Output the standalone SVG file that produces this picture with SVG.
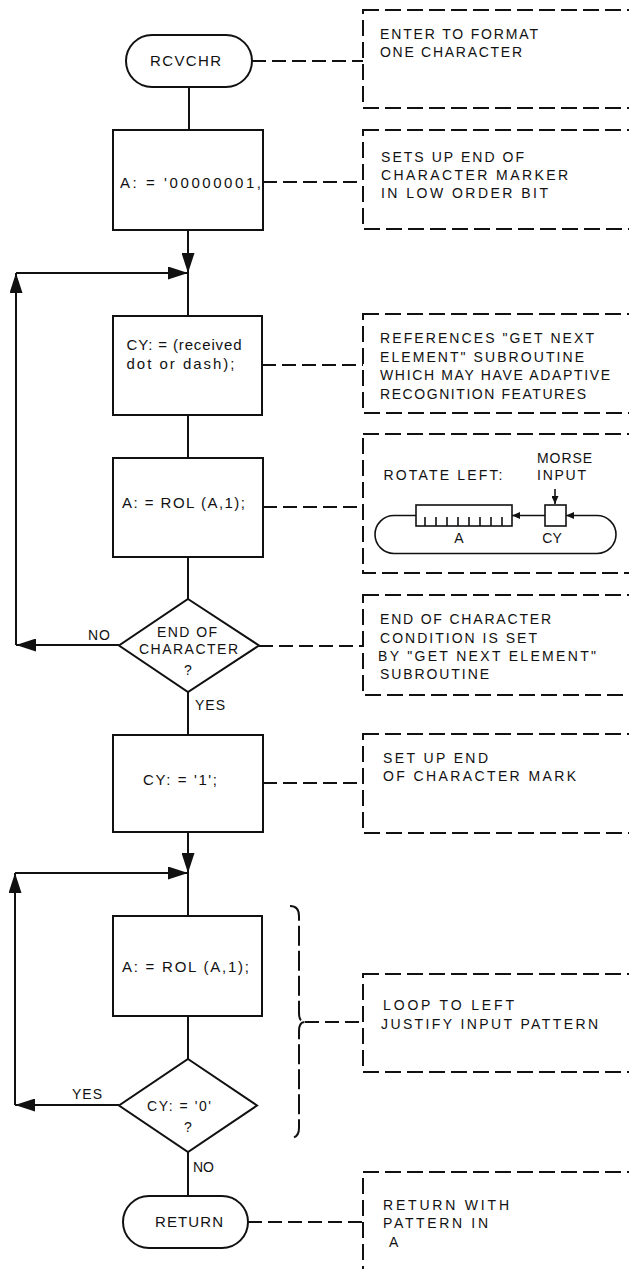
<svg xmlns="http://www.w3.org/2000/svg" width="629" height="1269" viewBox="0 0 629 1269">
<style>
  .bg{fill:#fff}
  .n{fill:#fff;stroke:#111;stroke-width:2}
  .f{fill:none;stroke:#111;stroke-width:2}
  .d{fill:none;stroke:#111;stroke-width:2;stroke-dasharray:14 6}
  .cb{fill:none;stroke:#111;stroke-width:2;stroke-dasharray:16 6}
  .br{fill:none;stroke:#111;stroke-width:2;stroke-dasharray:20 5}
  .thin{fill:none;stroke:#111;stroke-width:1.6}
  text{font-family:"Liberation Sans",Arial,sans-serif;fill:#111}
  .m{font-size:15px}
  .c{font-size:14px}
  .s{font-size:14px}
</style>
<defs>
  <marker id="ah" markerUnits="userSpaceOnUse" markerWidth="20" markerHeight="13" refX="20" refY="6.5" orient="auto">
    <path d="M0,0 L20,6.5 L0,13 Z" fill="#111"/>
  </marker>
  <marker id="sa" markerUnits="userSpaceOnUse" markerWidth="8" markerHeight="7" refX="8" refY="3.5" orient="auto">
    <path d="M0,0 L8,3.5 L0,7 Z" fill="#111"/>
  </marker>
</defs>
<rect class="bg" x="0" y="0" width="629" height="1269"/>

<g id="connectors">
  <path class="f" d="M189 87 V130"/>
  <path class="f" d="M188 230 V273" marker-end="url(#ah)"/>
  <path class="f" d="M188 273 V316"/>
  <path class="f" d="M188 415 V458"/>
  <path class="f" d="M188 557 V599"/>
  <path class="f" d="M119 645 H16" marker-end="url(#ah)"/>
  <path class="f" d="M16 645 V273" marker-end="url(#ah)"/>
  <path class="f" d="M16 273 H188" marker-end="url(#ah)"/>
  <path class="f" d="M188 692 V735"/>
  <path class="f" d="M188 832 V873" marker-end="url(#ah)"/>
  <path class="f" d="M188 873 V916"/>
  <path class="f" d="M188 1016 V1059"/>
  <path class="f" d="M119 1105 H15" marker-end="url(#ah)"/>
  <path class="f" d="M15 1105 V873" marker-end="url(#ah)"/>
  <path class="f" d="M15 873 H188" marker-end="url(#ah)"/>
  <path class="f" d="M188 1152 V1196"/>
  <path class="d" d="M252 61 H363"/>
  <path class="d" d="M263 182 H363"/>
  <path class="d" d="M262 365 H363"/>
  <path class="d" d="M263 507 H363"/>
  <path class="d" d="M259 646 H363"/>
  <path class="d" d="M263 783 H363"/>
  <path class="d" d="M305 1022 H363"/>
  <path class="d" d="M248 1222 H363"/>
  <text class="s" x="88" y="640" textLength="22">NO</text>
  <text class="s" x="195" y="710" textLength="30">YES</text>
  <text class="s" x="72" y="1099" textLength="30">YES</text>
  <text class="s" x="193" y="1172" textLength="21">NO</text>
</g>

<g id="rcvchr">
  <rect class="n" x="126" y="35" width="126" height="52" rx="26"/>
  <text class="m" x="150" y="66" textLength="71">RCVCHR</text>
</g>
<g id="init-a">
  <rect class="n" x="113" y="130" width="150" height="100"/>
  <text class="m" x="120" y="188" textLength="141">A: = '00000001,</text>
</g>
<g id="get-cy">
  <rect class="n" x="113" y="316" width="149" height="99"/>
  <text class="m" x="126.5" y="350" textLength="115">CY: = (received</text>
  <text class="m" x="126.5" y="369" textLength="108">dot or dash);</text>
</g>
<g id="rol-1">
  <rect class="n" x="113" y="458" width="150" height="99"/>
  <text class="m" x="122" y="508" textLength="123">A: = ROL (A,1);</text>
</g>
<g id="end-of-char">
  <polygon class="n" points="188,599 259,645.5 188,692 119,645.5"/>
  <text class="s" x="157" y="637" textLength="60">END OF</text>
  <text class="s" x="139" y="654" textLength="99">CHARACTER</text>
  <text class="s" x="188" y="675" text-anchor="middle">?</text>
</g>
<g id="set-cy">
  <rect class="n" x="113" y="735" width="150" height="97"/>
  <text class="m" x="143" y="785" textLength="74">CY: = '1';</text>
</g>
<g id="rol-2">
  <rect class="n" x="113" y="916" width="149" height="100"/>
  <text class="m" x="122" y="972" textLength="127">A: = ROL (A,1);</text>
</g>
<g id="cy-zero">
  <polygon class="n" points="188,1059 257,1105.5 188,1152 119,1105.5"/>
  <text class="s" x="147" y="1111" textLength="64">CY: = '0'</text>
  <text class="s" x="188" y="1132" text-anchor="middle">?</text>
</g>
<g id="return">
  <rect class="n" x="123" y="1196" width="125" height="52" rx="26"/>
  <text class="m" x="155" y="1227" textLength="68">RETURN</text>
</g>

<g id="note-enter">
  <rect class="cb" x="363" y="10" width="300" height="98"/>
  <text class="c" x="380" y="39" textLength="158">ENTER TO FORMAT</text>
  <text class="c" x="380" y="57" textLength="142">ONE CHARACTER</text>
</g>
<g id="note-marker">
  <rect class="cb" x="363" y="130" width="300" height="99"/>
  <text class="c" x="381" y="162" textLength="143">SETS UP END OF</text>
  <text class="c" x="381" y="180" textLength="187">CHARACTER MARKER</text>
  <text class="c" x="381" y="198" textLength="167">IN LOW ORDER  BIT</text>
</g>
<g id="note-get-next">
  <rect class="cb" x="363" y="314" width="300" height="99"/>
  <text class="c" x="380" y="343" textLength="214">REFERENCES "GET NEXT</text>
  <text class="c" x="380" y="361.5" textLength="204">ELEMENT" SUBROUTINE</text>
  <text class="c" x="380" y="380" textLength="230">WHICH MAY HAVE ADAPTIVE</text>
  <text class="c" x="380" y="398.5" textLength="206">RECOGNITION FEATURES</text>
</g>
<g id="note-rotate">
  <rect class="cb" x="363" y="434" width="300" height="139"/>
  <text class="c" x="383.5" y="480" textLength="119">ROTATE LEFT:</text>
  <text class="c" x="537" y="463" textLength="55">MORSE</text>
  <text class="c" x="537" y="480" textLength="49">INPUT</text>
  <rect class="thin" x="416" y="505" width="96" height="21"/>
  <path class="thin" d="M425 517V526 M436 517V526 M447 517V526 M458 517V526 M469 517V526 M480 517V526 M491 517V526 M502 517V526"/>
  <rect class="thin" x="545" y="505" width="21" height="21"/>
  <path class="thin" d="M555 489 V504" marker-end="url(#sa)"/>
  <path class="thin" d="M545 515.5 H512" marker-end="url(#sa)"/>
  <path class="thin" d="M416 515.5 H394 A19 19 0 0 0 394 553.5 H597 A19 19 0 0 0 597 515.5 H566" marker-end="url(#sa)"/>
  <text class="c" x="459" y="543" text-anchor="middle">A</text>
  <text class="c" x="552" y="543" text-anchor="middle">CY</text>
</g>
<g id="note-eoc">
  <rect class="cb" x="363" y="595" width="300" height="100"/>
  <text class="c" x="380" y="624" textLength="171">END OF CHARACTER</text>
  <text class="c" x="380" y="643" textLength="157">CONDITION IS SET</text>
  <text class="c" x="378" y="661" textLength="218">BY "GET NEXT ELEMENT"</text>
  <text class="c" x="380" y="679" textLength="109">SUBROUTINE</text>
</g>
<g id="note-setup">
  <rect class="cb" x="363" y="734" width="300" height="99"/>
  <text class="c" x="383" y="763" textLength="105">SET UP END</text>
  <text class="c" x="383" y="781" textLength="193">OF CHARACTER MARK</text>
</g>
<g id="brace">
  <path class="br" d="M290 906 Q299 906 299 916 V1013 Q299 1022 305 1022 Q299 1022 299 1031 V1128 Q299 1138 290 1138"/>
</g>
<g id="note-loop">
  <rect class="cb" x="363" y="974" width="300" height="98"/>
  <text class="c" x="383" y="1010" textLength="131">LOOP TO LEFT</text>
  <text class="c" x="381" y="1029" textLength="217">JUSTIFY INPUT PATTERN</text>
</g>
<g id="note-return">
  <rect class="cb" x="363" y="1172" width="300" height="140"/>
  <text class="c" x="383" y="1210" textLength="126">RETURN WITH</text>
  <text class="c" x="383" y="1228" textLength="105">PATTERN IN</text>
  <text class="c" x="389" y="1247">A</text>
</g>
</svg>
